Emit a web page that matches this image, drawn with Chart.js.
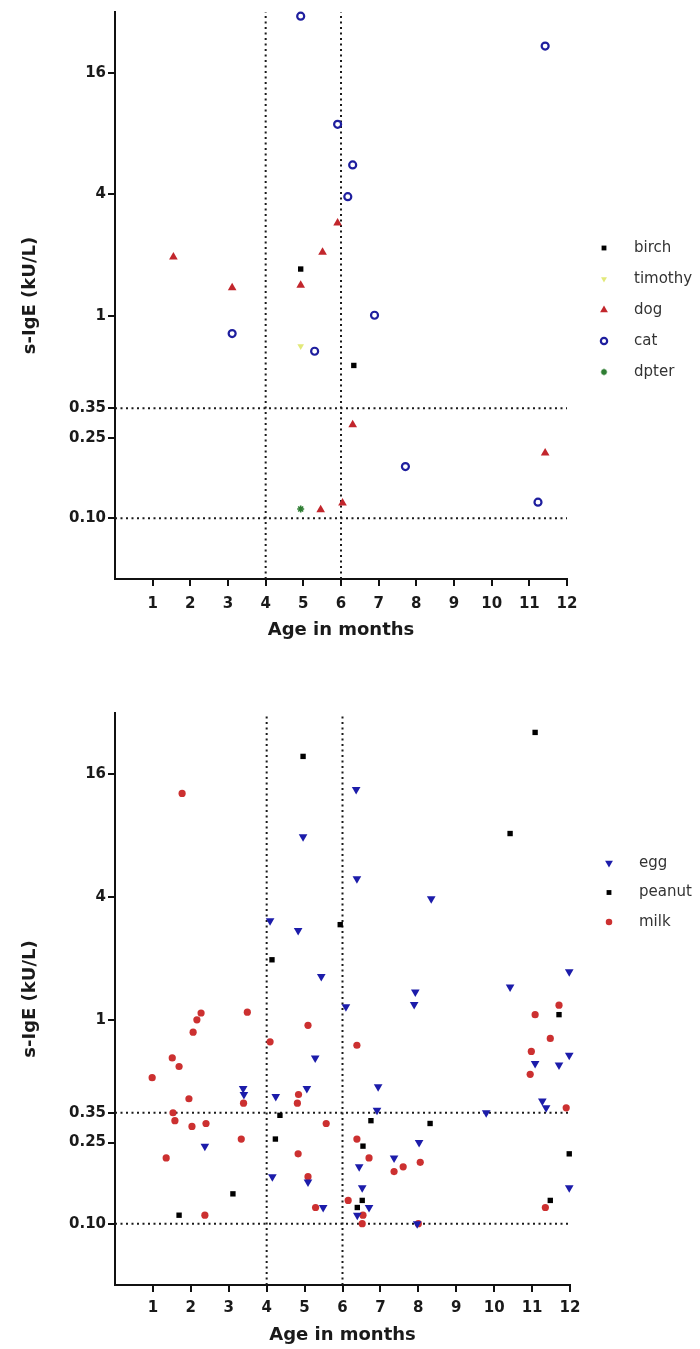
<!DOCTYPE html>
<html>
<head>
  <meta charset="utf-8">
  <title>s-IgE by age in months</title>
  <script src="https://cdn.jsdelivr.net/npm/chart.js"></script>
  <style>
    body { margin: 0; background: #fff; }
    .wrap { position: relative; width: 700px; height: 1349px; }
    canvas { position: absolute; left: 0; }
    #inhalants { top: 0; }
    #foods { top: 665px; }
  </style>
</head>
<body>
  <div class="wrap">
    <canvas id="inhalants" width="700" height="650"></canvas>
    <canvas id="foods" width="700" height="684"></canvas>
  </div>

  <script>
    // axis ticks and cut-off lines
    const monthTicks = [1, 2, 3, 4, 5, 6, 7, 8, 9, 10, 11, 12];
    const igeTicks = [0.1, 0.25, 0.35, 1, 4, 16];
    const ageCutoffs = [4, 6];
    const igeCutoffs = [0.35, 0.1];
    const yMin = 0.05, yMax = 32;

    // inhalant allergens: [age in months, s-IgE kU/L]
    const birch = [[4.93, 1.71], [6.34, 0.57]];
    const timothy = [[4.93, 0.71]];
    const dog = [[1.55, 1.96], [3.11, 1.38], [4.93, 1.42], [5.51, 2.07], [5.91, 2.89],
      [6.31, 0.29], [11.42, 0.21], [6.04, 0.119], [5.46, 0.11]];
    const cat = [[4.93, 30.5], [11.42, 21.7], [5.91, 8.9], [6.31, 5.6], [6.18, 3.9],
      [6.89, 1.01], [3.11, 0.82], [5.30, 0.67], [7.71, 0.18], [11.23, 0.12]];
    const dpter = [[4.93, 0.111]];

    // food allergens
    const egg = [[4.96, 7.9], [4.09, 3.06], [4.83, 2.74], [5.44, 1.63], [6.09, 1.16],
      [6.36, 13.5], [6.38, 4.92], [8.34, 3.93], [7.92, 1.37], [7.89, 1.19], [10.42, 1.45],
      [11.98, 1.72], [3.38, 0.46], [3.40, 0.43], [4.24, 0.42], [5.28, 0.65], [5.06, 0.46],
      [2.37, 0.24], [4.15, 0.17], [5.09, 0.16], [5.49, 0.12], [6.94, 0.47], [6.91, 0.36],
      [9.79, 0.35], [11.08, 0.61], [11.71, 0.60], [11.98, 0.67], [11.27, 0.40], [11.37, 0.37],
      [8.02, 0.25], [7.36, 0.21], [6.44, 0.19], [6.52, 0.15], [6.70, 0.12], [6.39, 0.11],
      [7.97, 0.10], [11.98, 0.15]];
    const peanut = [[4.96, 19.6], [11.08, 25.7], [10.42, 8.2], [5.94, 2.93], [4.14, 1.97],
      [11.71, 1.06], [4.35, 0.34], [4.23, 0.26], [3.11, 0.14], [1.69, 0.11], [6.75, 0.32],
      [8.31, 0.31], [6.54, 0.24], [11.98, 0.22], [6.52, 0.13], [6.39, 0.12], [11.48, 0.13]];
    const milk = [[1.77, 12.9], [2.27, 1.08], [2.16, 1.0], [2.06, 0.87], [3.49, 1.09],
      [5.09, 0.94], [4.09, 0.78], [1.51, 0.65], [1.69, 0.59], [0.98, 0.52], [1.95, 0.41],
      [4.84, 0.43], [4.81, 0.39], [3.39, 0.39], [1.53, 0.35], [1.58, 0.32], [2.03, 0.30],
      [2.40, 0.31], [5.57, 0.31], [3.33, 0.26], [1.35, 0.21], [4.83, 0.22], [5.09, 0.17],
      [5.29, 0.12], [2.37, 0.11], [6.15, 0.13], [11.71, 1.18], [11.08, 1.06], [11.48, 0.81],
      [10.98, 0.70], [10.95, 0.54], [11.90, 0.37], [6.38, 0.75], [6.38, 0.26], [6.70, 0.21],
      [7.36, 0.18], [7.60, 0.19], [8.05, 0.20], [6.54, 0.11], [6.52, 0.10], [8.0, 0.10],
      [11.35, 0.12]];

    const FONT = '"DejaVu Sans", Verdana, sans-serif';

    function pts(arr) {
      return arr.map(([x, y]) => ({ x, y }));
    }

    function series(label, arr, style) {
      return Object.assign({
        label,
        data: pts(arr),
        pointBorderWidth: 0,
        pointRotation: 0,
        clip: false,
        order: 0
      }, style);
    }

    // dotted cut-off lines, drawn as line datasets behind the points
    function cutoffLines() {
      const common = {
        type: 'line', refLine: true, borderColor: '#1a1a1a', borderWidth: 2,
        borderDash: [2, 3.5], pointRadius: 0, fill: false, order: 10
      };
      const v = ageCutoffs.map(a => Object.assign({ data: [{ x: a, y: yMin }, { x: a, y: yMax }] }, common));
      const h = igeCutoffs.map(c => Object.assign({ data: [{ x: 0, y: c }, { x: 12, y: c }] }, common));
      return v.concat(h);
    }

    // legend on the right: marker then label
    const sideLegend = {
      id: 'sideLegend',
      afterDraw(chart, args, opts) {
        const ctx = chart.ctx;
        ctx.save();
        chart.data.datasets.filter(d => !d.refLine).forEach((d, i) => {
          const y = opts.y + i * opts.gap;
          ctx.fillStyle = d.pointBackgroundColor;
          ctx.strokeStyle = d.pointBorderColor || d.pointBackgroundColor;
          ctx.lineWidth = d.pointBorderWidth;
          if (Chart.helpers && Chart.helpers.drawPoint) {
            Chart.helpers.drawPoint(ctx, {
              pointStyle: d.pointStyle, radius: d.pointRadius * 0.9,
              rotation: d.pointRotation, borderWidth: d.pointBorderWidth
            }, opts.x, y);
          } else {
            ctx.fillRect(opts.x - 3, y - 3, 6, 6);
          }
          ctx.font = '15px ' + FONT;
          ctx.textBaseline = 'middle';
          ctx.fillStyle = '#333';
          ctx.fillText(d.label, opts.x + 30, y);
        });
        ctx.restore();
      }
    };

    function makeChart(id, sets, frame) {
      const tickFont = { family: FONT, size: 15, weight: 'bold' };
      const titleFont = { family: FONT, size: 18, weight: 'bold' };
      const axisGrid = { drawOnChartArea: false, drawTicks: true, tickLength: 7, color: '#111', lineWidth: 2 };
      const axisBorder = { display: true, color: '#111', width: 2 };
      return new Chart(document.getElementById(id), {
        type: 'scatter',
        data: { datasets: sets.concat(cutoffLines()) },
        options: {
          responsive: false,
          animation: false,
          layout: { padding: { top: frame.top, right: frame.right, left: 0, bottom: 0 } },
          plugins: {
            legend: { display: false },
            tooltip: { enabled: false },
            sideLegend: frame.legend
          },
          scales: {
            x: {
              type: 'linear', min: 0, max: 12,
              afterFit: s => { s.height = frame.xAxis; },
              afterBuildTicks: s => { s.ticks = monthTicks.map(v => ({ value: v })); },
              ticks: { font: tickFont, color: '#1a1a1a', padding: frame.tickPad, maxRotation: 0 },
              grid: axisGrid,
              border: axisBorder,
              title: { display: true, text: 'Age in months', font: titleFont, color: '#1a1a1a', padding: { top: 0, bottom: frame.titlePad } }
            },
            y: {
              type: 'logarithmic', min: yMin, max: yMax,
              afterFit: s => { s.width = 115; },
              afterBuildTicks: s => { s.ticks = igeTicks.map(v => ({ value: v })); },
              ticks: {
                font: tickFont, color: '#1a1a1a', padding: 2,
                callback: v => (v < 1 ? Number(v).toFixed(2) : String(v))
              },
              grid: axisGrid,
              border: axisBorder,
              title: { display: true, text: 's-IgE (kU/L)', font: titleFont, color: '#1a1a1a', padding: { top: 20, bottom: 0 } }
            }
          }
        },
        plugins: [sideLegend]
      });
    }

    makeChart('inhalants', [
      series('birch', birch, { pointStyle: 'rect', pointRadius: 3.8, pointBackgroundColor: '#000' }),
      series('timothy', timothy, { pointStyle: 'triangle', pointRotation: 180, pointRadius: 3.8, pointBackgroundColor: '#e2e97a' }),
      series('dog', dog, { pointStyle: 'triangle', pointRadius: 5, pointBackgroundColor: '#c2262c' }),
      series('cat', cat, { pointStyle: 'circle', pointRadius: 3.5, pointBackgroundColor: '#fff', pointBorderColor: '#1e1e9e', pointBorderWidth: 2.2 }),
      series('dpter', dpter, { pointStyle: 'star', pointRadius: 3.5, pointBackgroundColor: '#2e7d32', pointBorderColor: '#2e7d32', pointBorderWidth: 1.6 })
    ], { top: 12, right: 133, xAxis: 71, tickPad: 9, titlePad: 9, legend: { x: 604, y: 248, gap: 31 } });

    makeChart('foods', [
      series('egg', egg, { pointStyle: 'triangle', pointRotation: 180, pointRadius: 5, pointBackgroundColor: '#1c1caa' }),
      series('peanut', peanut, { pointStyle: 'rect', pointRadius: 3.8, pointBackgroundColor: '#000' }),
      series('milk', milk, { pointStyle: 'circle', pointRadius: 3.6, pointBackgroundColor: '#cc3030' })
    ], { top: 48, right: 130, xAxis: 64, tickPad: 7, titlePad: 3, legend: { x: 609, y: 198, gap: 29.5 } });
  </script>
</body>
</html>
